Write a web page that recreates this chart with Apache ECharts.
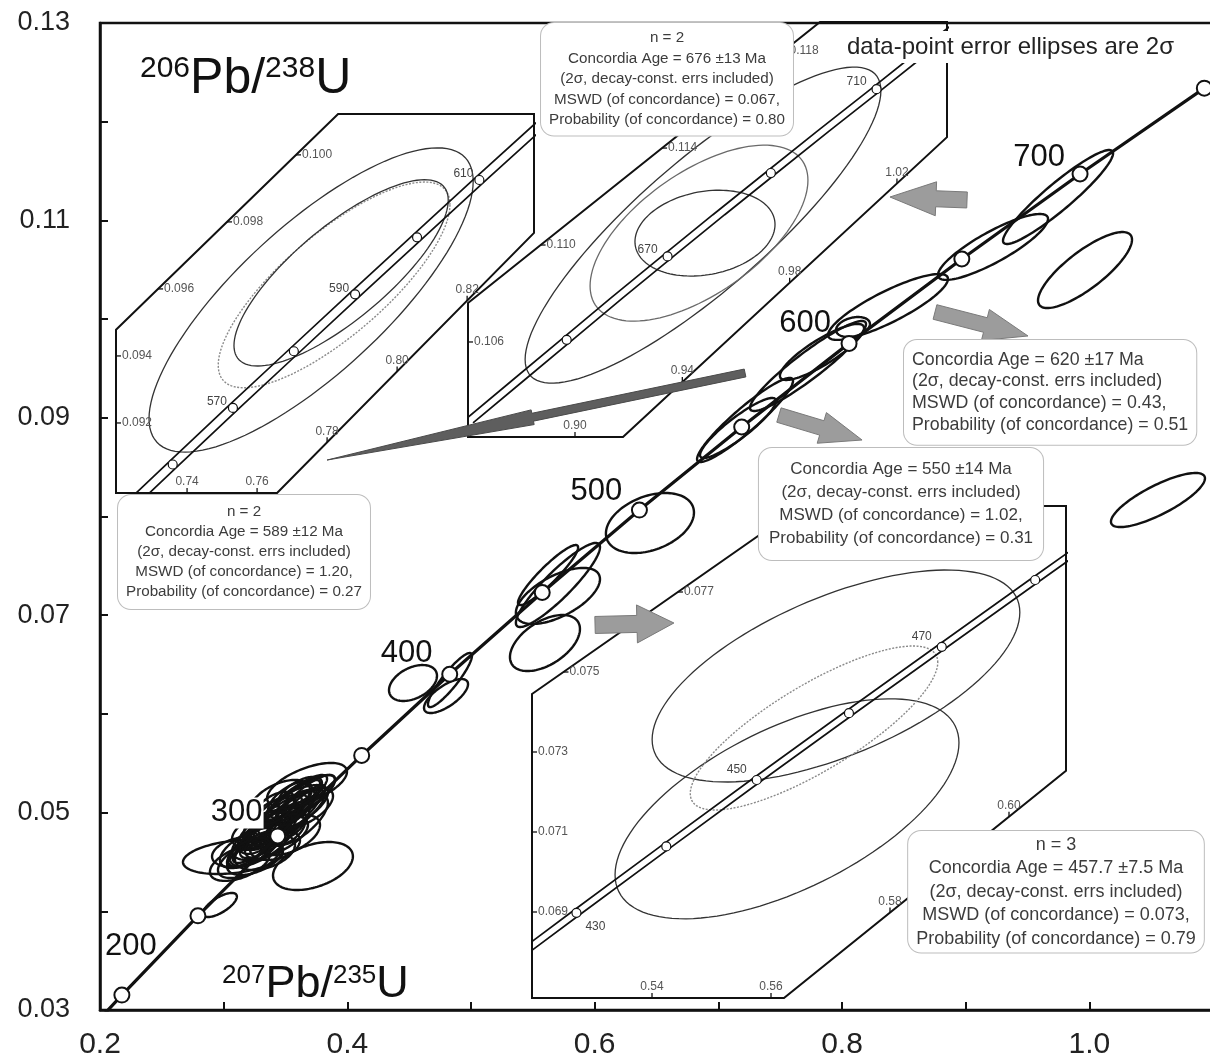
<!DOCTYPE html>
<html><head><meta charset="utf-8"><title>Concordia</title>
<script src="https://cdn.jsdelivr.net/npm/echarts@6.0.0/dist/echarts.min.js"></script>
<style>html,body{margin:0;padding:0;background:#fff;}#chart{width:1210px;height:1062px;}</style>
</head><body><div id="chart"></div><script>
const FONT = '"Liberation Sans", Arial, Helvetica, sans-serif';

// ---------- main diagram: concordia age markers ----------
const concordiaAges = [180,200,250,300,350,400,450,500,550,600,650,700,750];
const concordiaX = [0.1940,0.2177,0.2792,0.3437,0.4116,0.4828,0.5576,0.6362,0.7189,0.8057,0.8969,0.9925,1.0930];
const concordiaY = [0.02832,0.03151,0.03954,0.04764,0.05579,0.06402,0.07230,0.08065,0.08907,0.09754,0.10609,0.11470,0.12340];
const concordiaMarkerAges = [200,250,300,350,400,450,500,550,600,650,700,750];
const concordiaLabelAges = [200,300,400,500,600,700];

// tick labels
const xTickLabels = ['0.2','0.4','0.6','0.8','1.0'];
const yTickLabels = ['0.03','0.05','0.07','0.09','0.11','0.13'];

// data-point error ellipses: [207Pb/235U, 206Pb/238U, half-width x, half-width y, rho]
const mainEllipses = [
  [0.9747,0.11237,0.0445,0.00476,0.93],
  [0.9965,0.10497,0.0380,0.00385,0.80],
  [0.9221,0.10731,0.0445,0.00334,0.85],
  [0.8372,0.10123,0.0485,0.00334,0.85],
  [0.8089,0.09920,0.0137,0.00101,0.30],
  [0.7838,0.09667,0.0340,0.00284,0.85],
  [0.7725,0.09525,0.0469,0.00456,0.93],
  [0.7216,0.08978,0.0388,0.00426,0.93],
  [0.7159,0.08897,0.0307,0.00304,0.90],
  [1.0555,0.08167,0.0380,0.00274,0.80],
  [0.6447,0.07934,0.0356,0.00304,0.35],
  [0.5703,0.07306,0.0340,0.00426,0.90],
  [0.5703,0.07195,0.0340,0.00284,0.60],
  [0.5598,0.06718,0.0283,0.00284,0.50],
  [0.5623,0.07407,0.0243,0.00304,0.92],
  [0.4531,0.06313,0.0194,0.00182,0.40],
  [0.4830,0.06343,0.0178,0.00274,0.90],
  [0.4798,0.06181,0.0178,0.00172,0.70],
  [0.2970,0.04064,0.0137,0.00122,0.70],
  [0.3674,0.05280,0.0323,0.00223,0.60],
  [0.3075,0.04550,0.0404,0.00172,0.30],
  [0.3722,0.04459,0.0323,0.00243,0.40],
  [0.3617,0.05128,0.0283,0.00253,0.80],
  [0.3536,0.05026,0.0307,0.00253,0.70],
  [0.3496,0.04925,0.0323,0.00304,0.85],
  [0.3415,0.04824,0.0283,0.00284,0.80],
  [0.3375,0.04743,0.0307,0.00223,0.60],
  [0.3577,0.04976,0.0243,0.00304,0.90],
  [0.3294,0.04672,0.0259,0.00223,0.70],
  [0.3213,0.04641,0.0243,0.00203,0.60],
  [0.3334,0.04601,0.0243,0.00182,0.40],
  [0.3455,0.04864,0.0210,0.00182,0.50],
  [0.3658,0.05047,0.0226,0.00203,0.60],
  [0.3253,0.04540,0.0226,0.00172,0.50],
  [0.3132,0.04601,0.0226,0.00152,0.30],
  [0.3698,0.05178,0.0202,0.00203,0.80],
  [0.3536,0.04773,0.0243,0.00203,0.50],
  [0.3310,0.04824,0.0194,0.00203,0.70],
  [0.3415,0.04672,0.0202,0.00152,0.30],
  [0.3496,0.05026,0.0283,0.00304,0.90],
  [0.3415,0.04925,0.0259,0.00253,0.85],
  [0.3577,0.05128,0.0259,0.00253,0.85],
  [0.3334,0.04743,0.0259,0.00253,0.85],
  [0.3253,0.04672,0.0226,0.00223,0.80],
  [0.3617,0.04925,0.0226,0.00253,0.70],
  [0.3375,0.04925,0.0210,0.00223,0.60],
  [0.3213,0.04540,0.0259,0.00203,0.60],
  [0.3455,0.05128,0.0243,0.00203,0.50],
  [0.3294,0.04824,0.0226,0.00182,0.50],
  [0.3132,0.04490,0.0243,0.00182,0.50],
  [0.3536,0.05128,0.0178,0.00182,0.60],
  [0.3455,0.04976,0.0178,0.00203,0.70],
  [0.3375,0.04824,0.0178,0.00182,0.60],
  [0.3294,0.04743,0.0162,0.00162,0.60],
  [0.3577,0.05047,0.0162,0.00182,0.70],
  [0.3496,0.04824,0.0162,0.00162,0.50],
  [0.3415,0.05047,0.0162,0.00162,0.50],
  [0.3213,0.04601,0.0162,0.00142,0.50],
  [0.3617,0.05200,0.0178,0.00162,0.60],
  [0.3334,0.04672,0.0162,0.00142,0.40]
];

// ---------- inset 1 (589 Ma) ----------
const inset1Ages = [550,560,570,580,590,600,610,620];
const inset1X = [0.7189,0.7359,0.7531,0.7705,0.7880,0.8057,0.8235,0.8416];
const inset1Y = [0.08907,0.09076,0.09245,0.09414,0.09584,0.09754,0.09925,0.10096];
const inset1MarkerAges = [560,570,580,590,600,610];
const inset1LabelAges = [570,590,610];
const inset1BandHalfWidth = 0.0019;
const inset1Ellipses = [[0.77543,0.09567,0.0463,0.00454,0.78],[0.7820,0.09612,0.0331,0.00307,0.78],[0.7840,0.09648,0.0306,0.00278,0.78]];
const inset1EllipseLook = ['solid','dotted','solid'];
const inset1Frame = [[0.7197,0.09478],[0.78314,0.10122],[0.8391,0.10122],[0.8391,0.09767],[0.76571,0.08991],[0.7197,0.08991]];
const inset1XTicks = [0.74,0.76,0.78,0.80,0.82];
const inset1YTicks = [0.092,0.094,0.096,0.098,0.100];

// ---------- inset 2 (676 Ma) ----------
const inset2Ages = [630,640,650,660,670,680,690,700,710,720,730];
const inset2X = [0.8598,0.8784,0.8969,0.9155,0.9345,0.9536,0.9730,0.9925,1.0124,1.0321,1.0522];
const inset2Y = [0.10266,0.10438,0.10609,0.10781,0.10953,0.11125,0.11297,0.11470,0.11643,0.11817,0.11990];
const inset2MarkerAges = [650,670,690,710];
const inset2LabelAges = [670,710];
const inset2BandHalfWidth = 0.0022;
const inset2Ellipses = [[0.94771,0.11082,0.0663,0.00652,0.85],[0.94622,0.11049,0.0406,0.00363,0.60],[0.94845,0.11049,0.0261,0.00177,0.20]];
const inset2EllipseLook = ['solid','gray','solid'];
const inset2Frame = [[0.86012,0.10761],[0.99132,0.1192],[1.03865,0.1192],[1.03865,0.11445],[0.91789,0.10208],[0.86012,0.10208]];
const inset2XTicks = [0.90,0.94,0.98,1.02];
const inset2YTicks = [0.106,0.110,0.114,0.118];

// ---------- inset 3 (457.7 Ma) ----------
const inset3Ages = [410,420,430,440,450,460,470,480,490];
const inset3X = [0.4975,0.5123,0.5273,0.5424,0.5576,0.5731,0.5887,0.6044,0.6203];
const inset3Y = [0.06567,0.06732,0.06898,0.07064,0.07230,0.07397,0.07563,0.07730,0.07898];
const inset3MarkerAges = [430,440,450,460,470,480];
const inset3LabelAges = [430,450,470];
const inset3BandHalfWidth = 0.0010;
const inset3Ellipses = [[0.57092,0.0749,0.0309,0.00265,0.60],[0.56269,0.07158,0.0289,0.00275,0.60],[0.56723,0.0736,0.0208,0.00205,0.80]];
const inset3EllipseLook = ['solid','solid','dotted'];
const inset3Frame = [[0.51983,0.07445],[0.56504,0.07915],[0.60958,0.07915],[0.60958,0.07253],[0.56218,0.06685],[0.51983,0.06685]];
const inset3XTicks = [0.54,0.56,0.58,0.60];
const inset3YTicks = [0.069,0.071,0.073,0.075,0.077];

// ---------- pointer arrows (main data units) ----------
const arrowFrom = [[0.7216,0.09454],[0.9011,0.11207],[0.8752,0.10072],[0.7490,0.09028],[0.6003,0.06901]];
const arrowTo   = [[0.3836,0.08572],[0.8388,0.11237],[0.9504,0.09829],[0.8162,0.08775],[0.6641,0.06921]];
const arrowLooks = [
  {shaft:8, head:15, headLen:210, fill:'#5e5e5e', stroke:'#4a4a4a'},
  {shaft:16, head:34, headLen:46, fill:'#9c9c9c', stroke:'#7a7a7a'},
  {shaft:15, head:32, headLen:44, fill:'#9c9c9c', stroke:'#7a7a7a'},
  {shaft:15, head:32, headLen:42, fill:'#9c9c9c', stroke:'#7a7a7a'},
  {shaft:17, head:38, headLen:37, fill:'#9c9c9c', stroke:'#7a7a7a'}
];

// ---------- stats boxes ----------
const box1Lines = ['n = 2','Concordia Age = 589 ±12 Ma','(2σ, decay-const. errs included)','MSWD (of concordance) = 1.20,','Probability (of concordance) = 0.27'];
const box2Lines = ['n = 2','Concordia Age = 676 ±13 Ma','(2σ, decay-const. errs included)','MSWD (of concordance) = 0.067,','Probability (of concordance) = 0.80'];
const box3Lines = ['Concordia Age = 620 ±17 Ma','(2σ, decay-const. errs included)','MSWD (of concordance) = 0.43,','Probability (of concordance) = 0.51'];
const box4Lines = ['Concordia Age = 550 ±14 Ma','(2σ, decay-const. errs included)','MSWD (of concordance) = 1.02,','Probability (of concordance) = 0.31'];
const box5Lines = ['n = 3','Concordia Age = 457.7 ±7.5 Ma','(2σ, decay-const. errs included)','MSWD (of concordance) = 0.073,','Probability (of concordance) = 0.79'];

// =====================================================================
const chart = echarts.init(document.getElementById('chart'), null, {renderer:'canvas'});

function ellipseSeries(list, axisIndex, lookFn, z) {
  return {
    type:'custom', xAxisIndex:axisIndex, yAxisIndex:axisIndex, clip:true, silent:true, z:z,
    data: list.map(d => d.slice()),
    encode:{x:0, y:1},
    renderItem: function (params, api) {
      const x = api.value(0), y = api.value(1), sx = api.value(2), sy = api.value(3), r = api.value(4);
      const q = Math.sqrt(1 - r * r);
      const pts = [];
      for (let i = 0; i < 120; i++) {
        const t = i / 120 * Math.PI * 2;
        pts.push(api.coord([x + sx * Math.cos(t), y + sy * (r * Math.cos(t) + q * Math.sin(t))]));
      }
      return {type:'polygon', shape:{points:pts}, style:Object.assign({fill:'none'}, lookFn(params.dataIndex))};
    }
  };
}

function insetLook(look) {
  return function (i) {
    const k = look[i];
    if (k === 'dotted') return {stroke:'#8a8a8a', lineWidth:1.4, lineDash:[2,1.5]};
    if (k === 'gray') return {stroke:'#6a6a6a', lineWidth:1.3};
    return {stroke:'#333', lineWidth:1.3};
  };
}

function frameSeries(def, axisIndex) {
  return {
    type:'custom', xAxisIndex:axisIndex, yAxisIndex:axisIndex, clip:false, silent:true, z:3,
    data:[def.frame[0].slice()],
    renderItem: function (params, api) {
      const poly = def.frame;
      const font = '12px ' + FONT;
      const children = [{type:'polygon', shape:{points:poly.map(p => api.coord(p))}, style:{fill:'none', stroke:'#111', lineWidth:2}}];
      def.yTicks.forEach(v => {
        let best = null;
        for (let i = 0; i < poly.length; i++) {
          const a = poly[i], b = poly[(i + 1) % poly.length];
          if (a[1] !== b[1] && (a[1] - v) * (b[1] - v) <= 0) {
            const x = a[0] + (v - a[1]) / (b[1] - a[1]) * (b[0] - a[0]);
            if (best === null || x < best) best = x;
          }
        }
        if (best === null) return;
        const p = api.coord([best, v]);
        children.push({type:'line', shape:{x1:p[0], y1:p[1], x2:p[0] + 5, y2:p[1]}, style:{stroke:'#111', lineWidth:1.3}});
        children.push({type:'text', style:{text:v.toFixed(def.yDec), x:p[0] + 6, y:p[1], fill:'#555', font:font, align:'left', verticalAlign:'middle'}});
      });
      def.xTicks.forEach(u => {
        let best = null;
        for (let i = 0; i < poly.length; i++) {
          const a = poly[i], b = poly[(i + 1) % poly.length];
          if (a[0] !== b[0] && (a[0] - u) * (b[0] - u) <= 0) {
            const y = a[1] + (u - a[0]) / (b[0] - a[0]) * (b[1] - a[1]);
            if (best === null || y < best) best = y;
          }
        }
        if (best === null) return;
        const p = api.coord([u, best]);
        children.push({type:'line', shape:{x1:p[0], y1:p[1], x2:p[0], y2:p[1] - 5}, style:{stroke:'#111', lineWidth:1.3}});
        children.push({type:'text', style:{text:u.toFixed(def.xDec), x:p[0], y:p[1] - 5, fill:'#555', font:font, align:'center', verticalAlign:'bottom'}});
      });
      return {type:'group', children:children};
    }
  };
}

function insetSeries(def, axisIndex) {
  const s = [];
  s.push(frameSeries(def, axisIndex));
  s.push(ellipseSeries(def.ellipses, axisIndex, insetLook(def.look), 2));
  [-1, 1].forEach(sign => {
    s.push({
      type:'line', xAxisIndex:axisIndex, yAxisIndex:axisIndex, silent:true, z:4, symbol:'none', clip:true,
      data: def.ages.map((a, i) => [def.cx[i] + sign * def.band, def.cy[i]]),
      lineStyle:{color:'#111', width:1.7}
    });
  });
  s.push({
    type:'scatter', xAxisIndex:axisIndex, yAxisIndex:axisIndex, silent:true, z:5, clip:true,
    symbol:'circle', symbolSize:9,
    itemStyle:{color:'#fff', borderColor:'#111', borderWidth:1.2, opacity:1},
    data: def.markers.map(a => {
      const i = def.ages.indexOf(a);
      const lab = def.labels.indexOf(a) >= 0;
      const off = def.labelOffset(a);
      return {value:[def.cx[i], def.cy[i]],
        label:{show:lab, formatter:String(a), position:'inside', offset:off, color:'#444', opacity:1, fontSize:12, fontFamily:FONT}};
    })
  });
  return s;
}

const insetDefs = [
  {grid:{left:116, top:114, width:418, height:379}, x:[0.7197,0.8391], y:[0.08991,0.10122],
   frame:inset1Frame, xTicks:inset1XTicks, yTicks:inset1YTicks, xDec:2, yDec:3,
   ages:inset1Ages, cx:inset1X, cy:inset1Y, band:inset1BandHalfWidth, markers:inset1MarkerAges, labels:inset1LabelAges,
   ellipses:inset1Ellipses, look:inset1EllipseLook, labelOffset:a => [-16,-6]},
  {grid:{left:468, top:22, width:479, height:415}, x:[0.86012,1.03865], y:[0.10208,0.1192],
   frame:inset2Frame, xTicks:inset2XTicks, yTicks:inset2YTicks, xDec:2, yDec:3,
   ages:inset2Ages, cx:inset2X, cy:inset2Y, band:inset2BandHalfWidth, markers:inset2MarkerAges, labels:inset2LabelAges,
   ellipses:inset2Ellipses, look:inset2EllipseLook, labelOffset:a => [-20,-7]},
  {grid:{left:532, top:506, width:534, height:492}, x:[0.51983,0.60958], y:[0.06685,0.07915],
   frame:inset3Frame, xTicks:inset3XTicks, yTicks:inset3YTicks, xDec:2, yDec:3,
   ages:inset3Ages, cx:inset3X, cy:inset3Y, band:inset3BandHalfWidth, markers:inset3MarkerAges, labels:inset3LabelAges,
   ellipses:inset3Ellipses, look:inset3EllipseLook, labelOffset:a => (a === 430 ? [19,14] : [-20,-10])}
];

const labelOffsets = {200:[9,-49], 300:[-41,-23], 400:[-43,-21], 500:[-43,-19], 600:[-44,-20], 700:[-41,-17]};

const grids = [{left:100, top:23, width:1113, height:987, show:true, borderColor:'#111', borderWidth:2.5, outerBoundsMode:'none'}];
const xAxes = [{
  type:'value', gridIndex:0, min:0.2, max:1.1, interval:0.1, splitLine:{show:false},
  axisLine:{show:true, onZero:false, lineStyle:{color:'#111', width:2.5}},
  axisTick:{show:true, inside:true, length:8, lineStyle:{color:'#111', width:2}},
  axisLabel:{show:true, showMaxLabel:false, margin:20, fontSize:30, color:'#222', fontFamily:FONT,
    formatter:v => { const s = v.toFixed(1); return xTickLabels.indexOf(s) >= 0 ? s : ''; }}
}];
const yAxes = [{
  type:'value', gridIndex:0, min:0.03, max:0.13, interval:0.01, splitLine:{show:false},
  axisLine:{show:true, onZero:false, lineStyle:{color:'#111', width:2.5}},
  axisTick:{show:true, inside:true, length:8, lineStyle:{color:'#111', width:2}},
  axisLabel:{show:true, margin:30, fontSize:27, color:'#222', fontFamily:FONT,
    formatter:v => { const s = v.toFixed(2); return yTickLabels.indexOf(s) >= 0 ? s : ''; }}
}];
insetDefs.forEach((d, k) => {
  grids.push(Object.assign({show:false, outerBoundsMode:'none'}, d.grid));
  xAxes.push({type:'value', gridIndex:k + 1, min:d.x[0], max:d.x[1], show:false, splitLine:{show:false}});
  yAxes.push({type:'value', gridIndex:k + 1, min:d.y[0], max:d.y[1], show:false, splitLine:{show:false}});
});

const series = [];
// main ellipses
series.push(ellipseSeries(mainEllipses, 0, () => ({stroke:'#111', lineWidth:2.4}), 2));
// concordia curve
series.push({
  type:'line', xAxisIndex:0, yAxisIndex:0, silent:true, z:3, symbol:'none', clip:true,
  data: concordiaAges.map((a, i) => [concordiaX[i], concordiaY[i]]),
  lineStyle:{color:'#111', width:3.2}
});
// concordia age markers
series.push({
  type:'scatter', xAxisIndex:0, yAxisIndex:0, silent:true, z:4, clip:false,
  symbol:'circle', symbolSize:15,
  itemStyle:{color:'#fff', borderColor:'#111', borderWidth:2, opacity:1},
  data: concordiaMarkerAges.map(a => {
    const i = concordiaAges.indexOf(a);
    const lab = concordiaLabelAges.indexOf(a) >= 0;
    return {value:[concordiaX[i], concordiaY[i]],
      label:{show:lab, formatter:String(a), position:'inside', offset:labelOffsets[a] || [0,0],
        color:'#111', opacity:1, fontSize:31, fontFamily:FONT,
        backgroundColor:(a === 300 ? '#fff' : 'transparent'), padding:[0,1]}};
  })
});
// insets
insetDefs.forEach((d, k) => { insetSeries(d, k + 1).forEach(s => series.push(s)); });
// arrows
series.push({
  type:'custom', xAxisIndex:0, yAxisIndex:0, clip:false, silent:true, z:6,
  data: arrowFrom.map((p, i) => [p[0], p[1], arrowTo[i][0], arrowTo[i][1]]),
  encode:{x:0, y:1},
  renderItem: function (params, api) {
    const lk = arrowLooks[params.dataIndex];
    const a = api.coord([api.value(0), api.value(1)]);
    const b = api.coord([api.value(2), api.value(3)]);
    const dx = b[0] - a[0], dy = b[1] - a[1], len = Math.sqrt(dx * dx + dy * dy);
    const ux = dx / len, uy = dy / len, nx = -uy, ny = ux;
    const bx = b[0] - ux * lk.headLen, by = b[1] - uy * lk.headLen;
    const s = lk.shaft / 2, h = lk.head / 2;
    const pts = [
      [a[0] + nx * s, a[1] + ny * s], [bx + nx * s, by + ny * s], [bx + nx * h, by + ny * h], [b[0], b[1]],
      [bx - nx * h, by - ny * h], [bx - nx * s, by - ny * s], [a[0] - nx * s, a[1] - ny * s]
    ];
    return {type:'polygon', shape:{points:pts}, style:{fill:lk.fill, stroke:lk.stroke, lineWidth:1}};
  }
});

function statBox(lines, x, y, align, size, lh, pad) {
  return {type:'text', x:x, y:y, z:100, silent:true,
    style:{text:lines.join('\n'), font:size + 'px ' + FONT, fill:'#3c3c3c', align:align, verticalAlign:'top',
      lineHeight:lh, backgroundColor:'#fff', borderColor:'#bdbdbd', borderWidth:1, borderRadius:13, padding:pad}};
}

const graphic = [
  {type:'text', x:140, y:79, z:90, silent:true, style:{
    text:'{s|206}{b|Pb/}{s|238}{b|U}', verticalAlign:'middle', fill:'#111',
    rich:{s:{fontSize:30, fontFamily:FONT, verticalAlign:'top', lineHeight:50, fill:'#111'},
          b:{fontSize:50, fontFamily:FONT, verticalAlign:'bottom', lineHeight:50, fill:'#111'}}}},
  {type:'text', x:222, y:985, z:90, silent:true, style:{
    text:'{s|207}{b|Pb/}{s|235}{b|U}', verticalAlign:'middle', fill:'#111',
    rich:{s:{fontSize:26, fontFamily:FONT, verticalAlign:'top', lineHeight:45, fill:'#111'},
          b:{fontSize:45, fontFamily:FONT, verticalAlign:'bottom', lineHeight:45, fill:'#111'}}}},
  {type:'text', x:845, y:47, z:90, silent:true, style:{
    text:'data-point error ellipses are 2σ', font:'24px ' + FONT, fill:'#222', align:'left', verticalAlign:'middle',
    backgroundColor:'#fff', padding:[4,2]}},
  statBox(box1Lines, 244, 495, 'center', 15.2, 20, [7,8]),
  statBox(box2Lines, 667, 23, 'center', 15.2, 20.5, [5,8]),
  statBox(box3Lines, 904, 340, 'left', 17.8, 21.7, [9,8]),
  statBox(box4Lines, 901, 448, 'center', 17, 23, [10,10]),
  statBox(box5Lines, 1056, 831, 'center', 18, 23.5, [2,8])
];

chart.setOption({
  animation:false,
  backgroundColor:'#fff',
  grid:grids, xAxis:xAxes, yAxis:yAxes, series:series, graphic:graphic
});
</script></body></html>
